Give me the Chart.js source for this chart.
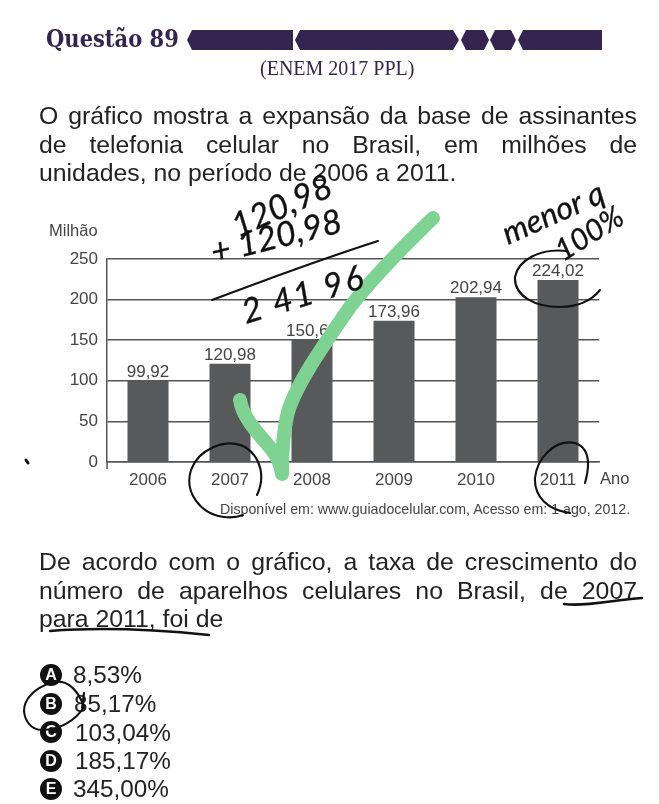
<!DOCTYPE html>
<html lang="pt-BR"><head><meta charset="utf-8">
<script src="https://cdn.jsdelivr.net/npm/chart.js@4"></script>
<style>
html,body{margin:0;padding:0;background:#fff;width:659px;height:804px;overflow:hidden}
#c{position:absolute;left:0;top:0}
svg{position:absolute;left:0;top:0}
.t{position:absolute;font-family:"Liberation Sans",Arial,sans-serif;color:#222;white-space:nowrap;line-height:1}
.j{left:39px;width:598px;font-size:24.8px;text-align:justify;text-align-last:justify;white-space:normal}
.o{left:73px;font-size:24.3px}
.b{position:absolute;left:40px;width:22px;height:22px;border-radius:50%;background:#111;color:#fff;font:bold 16px/22px "Liberation Sans",Arial,sans-serif;text-align:center}
.g{color:#444;font-size:16.5px}
</style></head><body>
<canvas id="c" width="659" height="804"></canvas>

<div class="t" style="left:46px;top:28px;font:bold 23.4px/1 'DejaVu Serif Condensed','DejaVu Serif',serif;color:#33254f">Questão 89</div>
<div class="t" style="left:260px;top:58px;font:20px/1 'Liberation Serif',serif;color:#33254f">(ENEM 2017 PPL)</div>

<div class="t j" style="top:104px">O gráfico mostra a expansão da base de assinantes</div>
<div class="t j" style="top:133px">de telefonia celular no Brasil, em milhões de</div>
<div class="t" style="left:39px;top:161px;font-size:24.8px">unidades, no período de 2006 a 2011.</div>

<div class="t g" style="left:49px;top:222px">Milhão</div>
<div class="t g" style="left:600px;top:470px">Ano</div>
<div class="t" style="left:220px;top:502px;font-size:14.2px;color:#444">Disponível em: www.guiadocelular.com, Acesso em: 1 ago, 2012.</div>

<div class="t j" style="top:550px">De acordo com o gráfico, a taxa de crescimento do</div>
<div class="t j" style="top:579px">número de aparelhos celulares no Brasil, de 2007</div>
<div class="t" style="left:39px;top:607px;font-size:24.8px">para 2011, foi de</div>

<div class="b" style="top:664px">A</div><div class="t o" style="top:663px">8,53%</div>
<div class="b" style="top:693px">B</div><div class="t o" style="top:692px;left:74px">85,17%</div>
<div class="b" style="top:721px">C</div><div class="t o" style="top:721px;left:75px">103,04%</div>
<div class="b" style="top:750px">D</div><div class="t o" style="top:749px;left:75px">185,17%</div>
<div class="b" style="top:778px">E</div><div class="t o" style="top:777px">345,00%</div>

<svg width="659" height="804" viewBox="0 0 659 804" fill="none" stroke-linecap="round" stroke-linejoin="round">
  <path d="M187 40 L192 30 H293 V50 H192 Z M295 40 L300 30 H453 L459 40 L453 50 H300 Z M461 40 L466 30 H484 L489 40 L484 50 H466 Z M490 40 L495 30 H511 L516 40 L511 50 H495 Z M518 40 L523 30 H602 V50 H523 Z" fill="#33254f"/>

  <path d="M240 400 C243 420 262 437 272 450 C278 458 281 466 282 474 C282 450 283 432 288 412 C296 385 320 350 350 307 C375 275 405 245 433 218" stroke="#7fd392" stroke-width="14"/>

  <g stroke="#111" stroke-width="2.1">
    <path d="M212 300 C265 280 325 258 378 241"/>
    <path d="M257 495 C265 478 262 458 245 447 C225 437 198 450 191 470 C184 492 200 514 224 517 C232 518 238 517 243 515"/>
    <path d="M585 483 C590 465 590 448 575 443 C555 439 537 458 535 478 C534 497 548 510 570 513"/>
    <path d="M567 251 C540 248 518 260 515 277 C514 296 535 307 560 307 C578 307 592 300 600 290"/>
    <path d="M50 683 C36 688 24 698 24 711 C25 722 32 730 42 730 C60 730 76 720 84 707 C80 695 72 684 62 682 C57 681 53 682 50 683 M84 693 L82 708"/>
    <path d="M564 604 C585 607 612 600 642 598" stroke-width="2.4"/>
    <path d="M50 631 C100 627 160 630 209 635" stroke-width="2.4"/>
    <path d="M26 460 L28 463" stroke-width="3"/>
  </g>
  <g fill="#111" stroke="#111" stroke-width="0.3" font-family="Lato,'Noto Sans',sans-serif" font-style="italic">
    <text transform="translate(238,238) rotate(-24)" font-size="34">120,98</text>
    <text transform="translate(214,264) rotate(-14)" font-size="34">+ 120,98</text>
    <text transform="translate(246,324) rotate(-17)" font-size="34" letter-spacing="2">2 41 96</text>
    <text transform="translate(508,245) rotate(-24)" font-size="32">menor q</text>
    <text transform="translate(563,262) rotate(-32)" font-size="30">100%</text>
  </g>
</svg>

<script>
const categories = ["2006","2007","2008","2009","2010","2011"];
const assinantes = [99.92,120.98,150.64,173.96,202.94,224.02];
const yTicks = [0,50,100,150,200,250];

const valueLabels = {
  id:"valueLabels",
  afterDatasetsDraw(ch){
    const {ctx} = ch, m = ch.getDatasetMeta(0);
    ctx.save();
    ctx.font = '17px "Liberation Sans",Arial,sans-serif';
    ctx.fillStyle = "#444"; ctx.textAlign = "center"; ctx.textBaseline = "bottom";
    m.data.forEach((b,i)=>ctx.fillText(assinantes[i].toFixed(2).replace(".",","), b.x, b.y));
    const a = ch.chartArea;
    ctx.strokeStyle = "#555"; ctx.lineWidth = 1.5;
    ctx.beginPath(); ctx.moveTo(a.left,a.bottom); ctx.lineTo(a.left,a.bottom+7); ctx.stroke();
    ctx.restore();
  }
};

new Chart(document.getElementById("c"),{
  type:"bar",
  data:{labels:categories,datasets:[{data:assinantes,backgroundColor:"#58595b",borderWidth:0,barPercentage:0.5,categoryPercentage:1}]},
  plugins:[valueLabels],
  options:{
    responsive:false,animation:false,
    layout:{padding:{left:0,right:60,top:259,bottom:0}},
    plugins:{legend:{display:false},tooltip:{enabled:false},title:{display:false}},
    scales:{
      x:{
        afterFit(s){s.height=342},
        grid:{display:false,drawTicks:false},
        border:{color:"#555",width:1.5},
        ticks:{color:"#444",padding:8,maxRotation:0,font:{family:'"Liberation Sans",Arial,sans-serif',size:17}}
      },
      y:{
        min:0,max:250,
        afterFit(s){s.width=107},
        afterBuildTicks(s){s.ticks=yTicks.map(v=>({value:v}))},
        grid:{color:"#555",lineWidth:1.5,drawTicks:false},
        border:{color:"#555",width:1.5},
        ticks:{color:"#444",padding:9,font:{family:'"Liberation Sans",Arial,sans-serif',size:17}}
      }
    }
  }
});
</script>
</body></html>
